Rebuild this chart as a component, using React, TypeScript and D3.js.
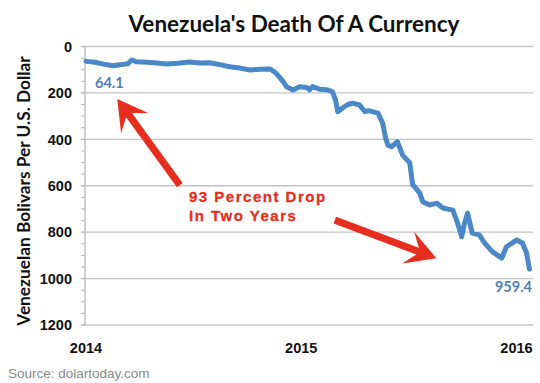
import React from "react";
import * as d3 from "d3";

const dates: string[] = [
  "2014-01-01","2014-01-16","2014-01-31","2014-02-16","2014-03-03","2014-03-13","2014-03-20","2014-03-27",
  "2014-04-14","2014-05-01","2014-05-18","2014-06-05","2014-06-26","2014-07-13","2014-07-30","2014-08-16",
  "2014-09-02","2014-09-19","2014-10-06","2014-10-23","2014-11-09","2014-11-17","2014-11-22","2014-12-01",
  "2014-12-07","2014-12-18","2014-12-29","2015-01-10","2015-01-15","2015-01-20","2015-02-01","2015-02-13",
  "2015-02-23","2015-02-28","2015-03-04","2015-03-12","2015-03-21","2015-03-29","2015-04-10","2015-04-19",
  "2015-04-25","2015-05-02","2015-05-11","2015-05-19","2015-05-24","2015-05-28","2015-06-03","2015-06-13",
  "2015-06-22","2015-07-04","2015-07-09","2015-07-12","2015-07-21","2015-07-26","2015-08-07","2015-08-19",
  "2015-08-29","2015-09-15","2015-09-23","2015-09-30","2015-10-05","2015-10-10","2015-10-18","2015-10-30",
  "2015-11-08","2015-11-21","2015-12-07","2015-12-15","2016-01-01","2016-01-11","2016-01-18","2016-01-23",
];
const rates: number[] = [
  64.1, 68, 76, 83, 78, 74, 58, 66,
  68, 71, 75, 72, 67, 71, 70, 78,
  87, 93, 101, 98, 97, 110, 123, 150,
  173, 187, 173, 177, 187, 173, 184, 186,
  195, 230, 281, 265, 250, 244, 252, 281,
  276, 281, 287, 330, 394, 425, 432, 410,
  468, 502, 597, 604, 632, 669, 683, 675,
  696, 705, 760, 820, 760, 718, 804, 812,
  847, 884, 912, 863, 834, 847, 890, 959.4,
];

const yTicks: number[] = [0, 200, 400, 600, 800, 1000, 1200];
const yMinorTicks: number[] = d3.range(0, 1201, 50);
const xTickLabels: string[] = ["2014", "2015", "2016"];

const titleText = "Venezuela's Death Of A Currency";
const yTitleText = "Venezuelan Bolivars Per U.S. Dollar";
const sourceText = "Source: dolartoday.com";
const noteLines: string[] = ["93 Percent Drop", "In Two Years"];
const startLabel = "64.1";
const endLabel = "959.4";

// annotation arrows: [tailDate, tailValue, tipDate, tipValue]
const arrowTails: [string, number][] = [["2014-06-09", 597], ["2015-02-27", 748]];
const arrowTips: [string, number][] = [["2014-02-23", 226], ["2015-08-18", 912]];

const W = 540;
const H = 383;
const LEFT = 85;
const RIGHT = 533;
const TOP = 46.5;
const BOTTOM = 325;

const parse = d3.timeParse("%Y-%m-%d");

function arrowPath(x1: number, y1: number, x2: number, y2: number): string {
  const dx = x2 - x1, dy = y2 - y1;
  const len = Math.hypot(dx, dy);
  const ux = dx / len, uy = dy / len;
  const px = -uy, py = ux;
  const shaftW = 3.6, headLen = 30, headW = 17, notch = 20;
  const p = (a: number, b: number) => [x2 - ux * a + px * b, y2 - uy * a + py * b];
  const pts = [
    [x1 + px * shaftW, y1 + py * shaftW],
    p(notch, shaftW),
    p(headLen, headW),
    [x2, y2],
    p(headLen, -headW),
    p(notch, -shaftW),
    [x1 - px * shaftW, y1 - py * shaftW],
  ];
  return "M" + pts.map((q) => q[0].toFixed(1) + "," + q[1].toFixed(1)).join("L") + "Z";
}

export default function App() {
  const x = d3
    .scaleTime()
    .domain([parse("2014-01-01") as Date, parse("2016-01-01") as Date])
    .range([86, 516.5]);
  const y = d3.scaleLinear().domain([0, 1200]).range([TOP, BOTTOM]);

  const data = dates.map((d, i) => ({ date: parse(d) as Date, v: rates[i] }));
  const line = d3
    .line<{ date: Date; v: number }>()
    .x((d) => x(d.date))
    .y((d) => y(d.v));

  const yearDates = xTickLabels.map((s) => parse(s + "-01-01") as Date);
  const red = "#e62e1e";
  const blue = "#4a88c7";

  return (
    <svg
      width={W}
      height={H}
      viewBox={`0 0 ${W} ${H}`}
      style={{ position: "absolute", left: 0, top: 0, background: "#fff" }}
    >
      <rect x={0} y={0} width={W} height={H} fill="#fff" />
      <text
        x={294}
        y={32}
        textAnchor="middle"
        fontFamily="Lato, 'Open Sans', sans-serif"
        fontWeight={700}
        fontSize={22.5}
        fill="#111"
      >
        {titleText}
      </text>

      {/* gridlines */}
      {yTicks.map((t) => (
        <line key={"g" + t} x1={LEFT - 4} x2={RIGHT} y1={y(t)} y2={y(t)} stroke="#c4c4c4" strokeWidth={1.3} />
      ))}
      {yMinorTicks.map((t) => (
        <line key={"m" + t} x1={LEFT - 4} x2={LEFT} y1={y(t)} y2={y(t)} stroke="#b8b8b8" strokeWidth={1} />
      ))}
      <line x1={LEFT} x2={LEFT} y1={TOP} y2={BOTTOM} stroke="#b8b8b8" strokeWidth={1.3} />

      {/* y tick labels */}
      {yTicks.map((t) => (
        <text
          key={"yl" + t}
          x={72}
          y={y(t)}
          dy="0.36em"
          textAnchor="end"
          fontFamily="'Liberation Sans', Arial, sans-serif"
          fontWeight={700}
          fontSize={14.5}
          fill="#111"
        >
          {t}
        </text>
      ))}

      {/* x tick labels */}
      {yearDates.map((d, i) => (
        <text
          key={"xl" + i}
          x={x(d)}
          y={353}
          textAnchor="middle"
          fontFamily="'Liberation Sans', Arial, sans-serif"
          fontWeight={700}
          fontSize={14.5}
          fill="#111"
        >
          {xTickLabels[i]}
        </text>
      ))}

      {/* y axis title */}
      <text
        transform={`translate(30,191) rotate(-90)`}
        textAnchor="middle"
        fontFamily="Lato, 'Open Sans', sans-serif"
        fontWeight={700}
        fontSize={17.3}
        fill="#111"
      >
        {yTitleText}
      </text>

      {/* data line */}
      <path
        d={line(data) || ""}
        fill="none"
        stroke={blue}
        strokeWidth={5}
        strokeLinejoin="round"
        strokeLinecap="round"
      />

      {/* value labels */}
      <text
        x={x(data[0].date) + 9}
        y={88}
        fontFamily="Lato, 'Open Sans', sans-serif"
        fontWeight={700}
        fontSize={14.5}
        fill="#4f7fb6"
      >
        {startLabel}
      </text>
      <text
        x={532}
        y={292}
        textAnchor="end"
        fontFamily="Lato, 'Open Sans', sans-serif"
        fontWeight={700}
        fontSize={14.5}
        fill="#4f7fb6"
      >
        {endLabel}
      </text>

      {/* arrows */}
      {arrowTails.map((tail, i) => (
        <path
          key={"a" + i}
          d={arrowPath(
            x(parse(tail[0]) as Date),
            y(tail[1]),
            x(parse(arrowTips[i][0]) as Date),
            y(arrowTips[i][1])
          )}
          fill={red}
        />
      ))}

      {/* annotation text */}
      {noteLines.map((s, i) => (
        <text
          key={"n" + i}
          x={189}
          y={202 + i * 18.5}
          fontFamily="'Liberation Sans', Arial, sans-serif"
          fontWeight={700}
          fontSize={15}
          letterSpacing={1.5}
          stroke={red}
          strokeWidth={0.3}
          fill={red}
        >
          {s}
        </text>
      ))}

      <text
        x={8}
        y={378}
        fontFamily="'Liberation Sans', Arial, sans-serif"
        fontSize={13.5}
        fill="#8a8a8a"
      >
        {sourceText}
      </text>
    </svg>
  );
}
